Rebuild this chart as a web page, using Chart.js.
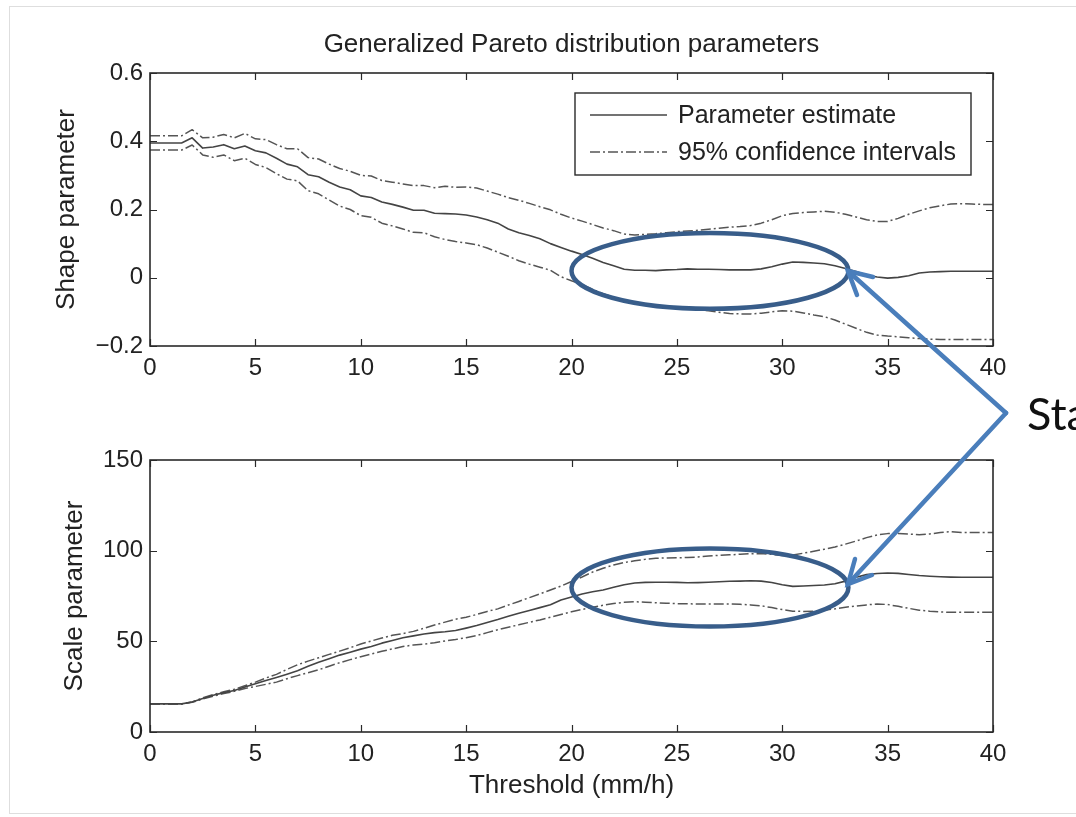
<!DOCTYPE html>
<html>
<head>
<meta charset="utf-8">
<title>Generalized Pareto distribution parameters</title>
<script src="https://cdn.jsdelivr.net/npm/chart.js@4.4.1/dist/chart.umd.min.js"></script>
<style>
  html, body { margin: 0; padding: 0; background: #fff; overflow: hidden; }
  #page { position: relative; width: 1076px; height: 817px; overflow: hidden; background: #fff; }
  #frame { position: absolute; left: 9px; top: 6px; width: 1100px; height: 808px; border: 1px solid #dedede; box-sizing: border-box; }
  #topWrap { position: absolute; left: 0; top: 0; }
  #bottomWrap { position: absolute; left: 0; top: 400px; }
  #overlay { position: absolute; left: 0; top: 0; pointer-events: none; }
</style>
</head>
<body>
<div id="page">
  <div id="frame"></div>
  <div id="topWrap"><canvas id="shapeChart" width="1076" height="400"></canvas></div>
  <div id="bottomWrap"><canvas id="scaleChart" width="1076" height="417"></canvas></div>
  <svg id="overlay" width="1076" height="817">
    <g fill="none" stroke="#4a7ebb" stroke-width="4.5" stroke-linecap="round" stroke-linejoin="miter">
      <line x1="1006" y1="413" x2="848" y2="271"></line>
      <line x1="1006" y1="413" x2="848" y2="584"></line>
      <polyline points="873,277 848,271 857,295"></polyline>
      <polyline points="872,575 848,584 855,559"></polyline>
    </g>
    <text x="1027" y="430" font-family="Lato, 'Open Sans', sans-serif" font-size="45" fill="#111">Sta</text>
  </svg>
</div>

<script>
// Threshold (mm/h) values along the x axis
const thresholds = [
  0, 0.5, 1, 1.5, 2, 2.5, 3, 3.5, 4, 4.5,
  5, 5.5, 6, 6.5, 7, 7.5, 8, 8.5, 9, 9.5,
  10, 10.5, 11, 11.5, 12, 12.5, 13, 13.5, 14, 14.5,
  15, 15.5, 16, 16.5, 17, 17.5, 18, 18.5, 19, 19.5,
  20, 20.5, 21, 21.5, 22, 22.5, 23, 23.5, 24, 24.5,
  25, 25.5, 26, 26.5, 27, 27.5, 28, 28.5, 29, 29.5,
  30, 30.5, 31, 31.5, 32, 32.5, 33, 33.5, 34, 34.5,
  35, 35.5, 36, 36.5, 37, 37.5, 38, 38.5, 39, 39.5,
  40
];

// Shape parameter
const shapeEstimate = [
  0.395, 0.395, 0.395, 0.395, 0.41, 0.38, 0.383, 0.39, 0.378, 0.386,
  0.372, 0.366, 0.35, 0.333, 0.325, 0.302, 0.296, 0.28, 0.266, 0.258,
  0.24, 0.235, 0.222, 0.215, 0.207, 0.198, 0.198, 0.189, 0.188, 0.187,
  0.184, 0.178, 0.17, 0.16, 0.143, 0.132, 0.124, 0.114, 0.1, 0.089,
  0.078, 0.068, 0.057, 0.045, 0.035, 0.025, 0.022, 0.022, 0.021, 0.023,
  0.024, 0.026, 0.025, 0.025, 0.024, 0.023, 0.023, 0.023, 0.026, 0.032,
  0.04, 0.046, 0.045, 0.043, 0.041, 0.035, 0.027, 0.018, 0.008, 0.002,
  -0.001, 0.001, 0.006, 0.014, 0.017, 0.018, 0.019, 0.019, 0.019, 0.019,
  0.019
];
const shapeUpper = [
  0.416, 0.416, 0.416, 0.416, 0.434, 0.41, 0.412, 0.42, 0.41, 0.423,
  0.407, 0.405, 0.39, 0.378, 0.378, 0.352, 0.348, 0.333, 0.32, 0.312,
  0.3, 0.298, 0.285, 0.28, 0.275, 0.27, 0.27, 0.264, 0.268, 0.265,
  0.266, 0.263, 0.254, 0.245, 0.235, 0.227, 0.218, 0.208, 0.199, 0.186,
  0.175, 0.166, 0.156, 0.146, 0.138, 0.128, 0.125, 0.127, 0.129, 0.132,
  0.135, 0.137, 0.139, 0.142, 0.145, 0.148, 0.15, 0.153, 0.16, 0.17,
  0.182, 0.188, 0.191, 0.193, 0.195, 0.192, 0.186, 0.178, 0.17, 0.165,
  0.165, 0.174, 0.186, 0.196, 0.205, 0.211, 0.216, 0.217, 0.216, 0.215,
  0.215
];
const shapeLower = [
  0.374, 0.374, 0.374, 0.374, 0.389, 0.36, 0.353, 0.36, 0.343, 0.35,
  0.332, 0.323, 0.305, 0.289, 0.284, 0.255, 0.246, 0.228, 0.21, 0.2,
  0.182, 0.177, 0.16, 0.152, 0.143, 0.133, 0.132, 0.12, 0.112, 0.106,
  0.102, 0.097, 0.087, 0.075, 0.063, 0.05, 0.04, 0.031, 0.022, 0.003,
  -0.009, -0.02, -0.034, -0.047, -0.057, -0.068, -0.073, -0.077, -0.081, -0.085,
  -0.088, -0.09, -0.093, -0.097, -0.101, -0.105, -0.106, -0.106, -0.104, -0.1,
  -0.097, -0.098, -0.103, -0.109, -0.114, -0.124, -0.136, -0.148, -0.16, -0.168,
  -0.171, -0.173, -0.176, -0.178, -0.18, -0.181, -0.181, -0.181, -0.181, -0.181,
  -0.181
];

// Scale parameter
const scaleEstimate = [
  15.5, 15.5, 15.5, 15.5, 16.5, 18.5, 20.3, 21.7, 22.9, 24.8,
  26.6, 28.4, 30.1, 31.9, 33.8, 36.2, 38.5, 40.4, 42.4, 44,
  45.7, 47.2, 49, 50.5, 52, 53, 54, 54.8, 55.3, 56,
  57.3, 58.7, 60.4, 62, 63.8, 65.5, 67, 68.6, 70.2, 72.8,
  74.5, 76.1, 77.3, 78.3, 79.8, 81.2, 82.2, 82.5, 82.6, 82.6,
  82.5, 82.3, 82.4, 82.6, 82.9, 83.1, 83.2, 83.4, 83.2, 82.4,
  81.2, 80.3, 80.5, 80.8, 81.1, 81.8, 83.2, 85.3, 86.8, 87.4,
  87.7, 87.5, 86.9, 86.3, 85.9, 85.6, 85.4, 85.3, 85.3, 85.3,
  85.3
];
const scaleUpper = [
  15.5, 15.5, 15.5, 15.5, 16.6, 18.8, 20.6, 22.2, 23.6, 25.5,
  27.5, 29.8, 31.8, 34.5, 37.1, 39.1, 40.9, 42.8, 44.6, 46.5,
  48.5, 50.2, 51.8, 53.3, 54.3, 55.5, 57.2, 59, 60.6, 62.2,
  63.3, 64.8, 66.5, 67.9, 70, 72, 74.1, 76.2, 78.3, 80.5,
  83, 85.5, 88.2, 90.3, 92.1, 93.5, 94.4, 95.2, 95.8, 96,
  96.1, 96.2, 96.5, 97, 97.4, 97.7, 98, 98.3, 98.4, 98,
  97.3, 97.6, 98.6, 99.7, 100.8, 102, 103.6, 105.3, 107.2, 108.7,
  109.4, 109.5, 109.2, 108.8, 109.2, 110, 110.5, 110, 110, 110,
  110
];
const scaleLower = [
  15.5, 15.5, 15.5, 15.5, 16.4, 18.2, 19.8, 21.2, 22.4, 24,
  25.1, 26.3, 27.5, 29.4, 31.1, 32.7, 34.3, 36.3, 38.2, 39.9,
  41.5, 43, 44.5, 45.8, 47.1, 48, 48.5, 49.2, 50.2, 51,
  52, 53.2, 54.8, 56.4, 57.8, 59.1, 60.5, 61.8, 63.3, 64.8,
  66.3, 67.6, 68.8, 69.9, 70.8, 71.5, 71.8, 71.6, 71.3, 71,
  70.8, 70.7, 70.6, 70.6, 70.6, 70.6, 70.4, 70.1, 69.6, 68.6,
  67.5, 66.6, 66.5, 66.6, 67.2, 67.9, 68.8, 69.5, 70.1, 70.6,
  70.3, 69.3, 68.2, 67.2, 66.6, 66.2, 66, 66, 66, 66,
  66
];

const legendLabels = ['Parameter estimate', '95% confidence intervals'];
const chartTitle = 'Generalized Pareto distribution parameters';

const FONT = "'Liberation Sans', Arial, Helvetica, sans-serif";
const INK = '#222';
const DASH_DOT = [10, 3, 2, 3];

function toPoints(ys) {
    return thresholds.map((x, i) => ({ x, y: ys[i] }));
}

function makeDatasets(est, upper, lower) {
    return [
        { label: legendLabels[0], data: toPoints(est), borderColor: '#444', borderWidth: 1.6 },
        { label: legendLabels[1], data: toPoints(upper), borderColor: '#555', borderWidth: 1.5, borderDash: DASH_DOT },
        { label: legendLabels[1], data: toPoints(lower), borderColor: '#555', borderWidth: 1.5, borderDash: DASH_DOT, inLegend: false }
    ];
}

// MATLAB style box with inward ticks on all four sides
const boxAxes = {
    id: 'boxAxes',
    afterDatasetsDraw(chart) {
        const { ctx, chartArea: a, scales } = chart;
        const len = 7;
        ctx.save();
        ctx.strokeStyle = '#2a2a2a';
        ctx.lineWidth = 1.2;
        ctx.beginPath();
        scales.x.ticks.forEach(t => {
            const px = Math.round(scales.x.getPixelForValue(t.value)) + 0.5;
            ctx.moveTo(px, a.bottom); ctx.lineTo(px, a.bottom - len);
            ctx.moveTo(px, a.top); ctx.lineTo(px, a.top + len);
        });
        scales.y.ticks.forEach(t => {
            const py = Math.round(scales.y.getPixelForValue(t.value)) + 0.5;
            ctx.moveTo(a.left, py); ctx.lineTo(a.left + len, py);
            ctx.moveTo(a.right, py); ctx.lineTo(a.right - len, py);
        });
        ctx.stroke();
        ctx.lineWidth = 1.6;
        ctx.strokeRect(a.left, a.top, a.right - a.left, a.bottom - a.top);
        ctx.restore();
    }
};

// title centred over the plot box (MATLAB style), not over the whole canvas
const plotTitle = {
    id: 'plotTitle',
    afterDraw(chart, args, opts) {
        if (!opts || !opts.text) return;
        const { ctx, chartArea: a } = chart;
        ctx.save();
        ctx.fillStyle = INK;
        ctx.font = '26px ' + FONT;
        ctx.textAlign = 'center';
        ctx.textBaseline = 'middle';
        ctx.fillText(opts.text, (a.left + a.right) / 2, a.top - 28);
        ctx.restore();
    }
};

// boxed legend in the upper right corner of the shape panel
const boxedLegend = {
    id: 'boxedLegend',
    afterDraw(chart, args, opts) {
        if (!opts || !opts.show) return;
        const { ctx, chartArea: a } = chart;
        const w = 396, h = 82;
        const x0 = a.right - 418, y0 = a.top + 20;
        ctx.save();
        ctx.fillStyle = '#fff';
        ctx.fillRect(x0, y0, w, h);
        ctx.strokeStyle = '#2a2a2a';
        ctx.lineWidth = 1.4;
        ctx.strokeRect(x0, y0, w, h);
        const items = chart.data.datasets.filter(d => d.inLegend !== false);
        items.forEach((d, i) => {
            const y = y0 + 22 + i * 37;
            ctx.strokeStyle = d.borderColor;
            ctx.lineWidth = d.borderWidth;
            ctx.setLineDash(d.borderDash || []);
            ctx.beginPath();
            ctx.moveTo(x0 + 15, y);
            ctx.lineTo(x0 + 92, y);
            ctx.stroke();
            ctx.setLineDash([]);
            ctx.fillStyle = INK;
            ctx.font = '25px ' + FONT;
            ctx.textBaseline = 'middle';
            ctx.fillText(d.label, x0 + 103, y + 1);
        });
        ctx.restore();
    }
};

// blue ellipse annotation placed in data coordinates
const focusRing = {
    id: 'focusRing',
    afterDraw(chart, args, opts) {
        if (!opts || opts.x === undefined) return;
        const { ctx, scales } = chart;
        const cx = scales.x.getPixelForValue(opts.x);
        const cy = scales.y.getPixelForValue(opts.y);
        const rx = Math.abs(scales.x.getPixelForValue(opts.x + opts.rx) - cx);
        const ry = Math.abs(scales.y.getPixelForValue(opts.y + opts.ry) - cy);
        ctx.save();
        ctx.strokeStyle = '#385d8a';
        ctx.lineWidth = 4.5;
        ctx.beginPath();
        ctx.ellipse(cx, cy, rx, ry, 0, 0, Math.PI * 2);
        ctx.stroke();
        ctx.restore();
    }
};

function fmtShape(v) {
    if (Math.abs(v) < 1e-9) return '0';
    return v.toFixed(1).replace('-', '\u2212');
}

function makeOptions(cfg) {
    return {
        responsive: false,
        animation: false,
        events: [],
        layout: { padding: cfg.padding },
        elements: {
            point: { radius: 0 },
            line: { tension: 0, borderJoinStyle: 'round', fill: false }
        },
        plugins: {
            legend: { display: false },
            tooltip: { enabled: false },
            title: { display: false },
            plotTitle: { text: cfg.title },
            boxedLegend: { show: !!cfg.legend },
            focusRing: cfg.ring
        },
        scales: {
            x: {
                type: 'linear',
                min: 0,
                max: 40,
                grid: { display: false, drawTicks: false },
                border: { display: false },
                ticks: { stepSize: 5, color: INK, padding: 8, font: { family: FONT, size: 24 } },
                title: cfg.xTitle ? {
                    display: true,
                    text: cfg.xTitle,
                    color: INK,
                    font: { family: FONT, size: 26 },
                    padding: { top: 0, bottom: 16 }
                } : { display: false },
                afterFit(scale) { scale.height = cfg.xHeight; }
            },
            y: {
                type: 'linear',
                min: cfg.yMin,
                max: cfg.yMax,
                grid: { display: false, drawTicks: false },
                border: { display: false },
                ticks: { stepSize: cfg.yStep, color: INK, padding: 7, font: { family: FONT, size: 24 }, callback: cfg.yFmt },
                title: {
                    display: true,
                    text: cfg.yTitle,
                    color: INK,
                    font: { family: FONT, size: 26 },
                    padding: { top: cfg.yTitlePad, bottom: 0 }
                },
                afterFit(scale) { scale.width = 100; }
            }
        }
    };
}

new Chart(document.getElementById('shapeChart'), {
    type: 'line',
    data: { datasets: makeDatasets(shapeEstimate, shapeUpper, shapeLower) },
    options: makeOptions({
        title: chartTitle,
        padding: { left: 50, right: 83, top: 73, bottom: 0 },
        xHeight: 54,
        yMin: -0.2, yMax: 0.6, yStep: 0.2,
        yFmt: fmtShape,
        yTitle: 'Shape parameter',
        yTitlePad: 1,
        legend: true,
        ring: { x: 26.57, y: 0.02, rx: 6.57, ry: 0.111 }
    }),
    plugins: [boxAxes, plotTitle, boxedLegend, focusRing]
});

new Chart(document.getElementById('scaleChart'), {
    type: 'line',
    data: { datasets: makeDatasets(scaleEstimate, scaleUpper, scaleLower) },
    options: makeOptions({
        padding: { left: 50, right: 83, top: 60, bottom: 0 },
        xHeight: 85,
        xTitle: 'Threshold (mm/h)',
        yMin: 0, yMax: 150, yStep: 50,
        yFmt: v => String(v),
        yTitle: 'Scale parameter',
        yTitlePad: 9,
        legend: false,
        ring: { x: 26.57, y: 79.7, rx: 6.57, ry: 21.5 }
    }),
    plugins: [boxAxes, plotTitle, boxedLegend, focusRing]
});
</script>
</body>
</html>
